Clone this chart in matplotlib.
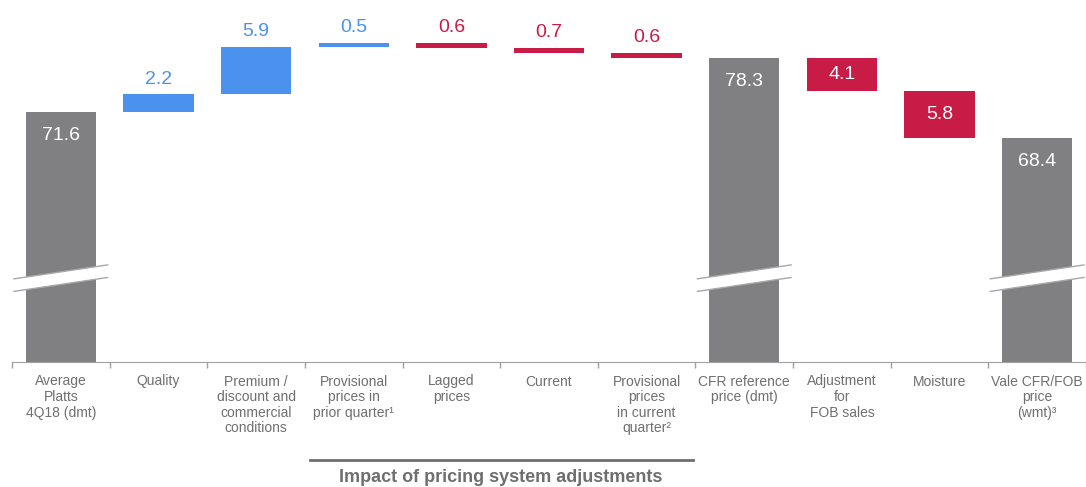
import matplotlib.pyplot as plt
from matplotlib.ticker import FixedLocator
import matplotlib.transforms as mtransforms

categories = [
    "Average\nPlatts\n4Q18 (dmt)",
    "Quality",
    "Premium /\ndiscount and\ncommercial\nconditions",
    "Provisional\nprices in\nprior quarter\u00b9",
    "Lagged\nprices",
    "Current",
    "Provisional\nprices\nin current\nquarter\u00b2",
    "CFR reference\nprice (dmt)",
    "Adjustment\nfor\nFOB sales",
    "Moisture",
    "Vale CFR/FOB\nprice\n(wmt)\u00b3",
]
values = [71.6, 2.2, 5.9, 0.5, -0.6, -0.7, -0.6, 78.3, -4.1, -5.8, 68.4]
is_total = [True, False, False, False, False, False, False, True, False, False, True]
group_label = "Impact of pricing system adjustments"
group_span = (3, 6)  # first and last category of the bracket

GRAY = "#808082"
BLUE = "#4B92EE"
RED = "#C81B45"
TEXT = "#6f6f6f"

plt.rcParams['font.family'] = ['Liberation Sans', 'DejaVu Sans']

fig = plt.figure(figsize=(10.86, 4.87), dpi=100)
ax = fig.add_axes([12 / 1086, 125 / 487, 1 - 12 / 1086, 362 / 487])
ymin, ymax = 40.6, 85.5

running = 0
for i, (v, tot) in enumerate(zip(values, is_total)):
    if tot:
        ax.bar(i, v, width=0.72, color=GRAY, zorder=2)
        running = v
        ax.annotate(f"{v:.1f}", (i, v), xytext=(0, -17), textcoords="offset points",
                    ha="center", va="center", color="white", fontsize=14)
        # axis break across the total bar
        yb, dx, slope, gap = 51.0, 0.48, 1.8, 0.78
        xs = [i - dx, i + dx, i + dx, i - dx]
        ys = [yb - slope * dx - gap, yb + slope * dx - gap, yb + slope * dx + gap, yb - slope * dx + gap]
        ax.fill(xs, ys, color="white", zorder=3, lw=0)
        for s in (-1, 1):
            ax.plot([i - dx, i + dx], [yb - slope * dx + s * gap, yb + slope * dx + s * gap],
                    color="#a8a8a8", lw=1, zorder=4)
    else:
        color = BLUE if v > 0 else RED
        ax.bar(i, v, bottom=running, width=0.72, color=color, zorder=2)
        top = max(running, running + v)
        if abs(v) >= 2 and v < 0:
            ax.text(i, running + v / 2, f"{abs(v):.1f}", ha="center", va="center",
                    color="white", fontsize=14)
        else:
            ax.annotate(f"{abs(v):.1f}", (i, top), xytext=(0, 11), textcoords="offset points",
                        ha="center", va="center", color=color, fontsize=14)
        running += v

ax.set_xlim(-0.5, len(values) - 0.5)
ax.set_ylim(ymin, ymax)
for side in ("top", "right", "left"):
    ax.spines[side].set_visible(False)
ax.spines["bottom"].set_color("#a0a0a0")
ax.yaxis.set_visible(False)

ax.set_xticks(range(len(categories)))
ax.set_xticklabels(categories, fontsize=10, color=TEXT, linespacing=1.15,
                   family=['Liberation Sans Narrow', 'Liberation Sans'])
ax.tick_params(axis="x", which="major", length=0, pad=9)
ax.xaxis.set_minor_locator(FixedLocator([k - 0.5 for k in range(len(values) + 1)]))
ax.tick_params(axis="x", which="minor", length=4, color="#a0a0a0", width=1)

# bracket for pricing system adjustments
trans = mtransforms.blended_transform_factory(ax.transData, fig.transFigure)
x0, x1 = group_span[0] - 0.45, group_span[1] + 0.47
ax.plot([x0, x1], [0.055, 0.055], transform=trans, color="#6f6f6f", lw=2, clip_on=False)
ax.text((x0 + x1) / 2, 0.02, group_label, transform=trans, ha="center", va="center",
        fontsize=13, fontweight="bold", color=TEXT)

fig.savefig("out.png", dpi=100)
